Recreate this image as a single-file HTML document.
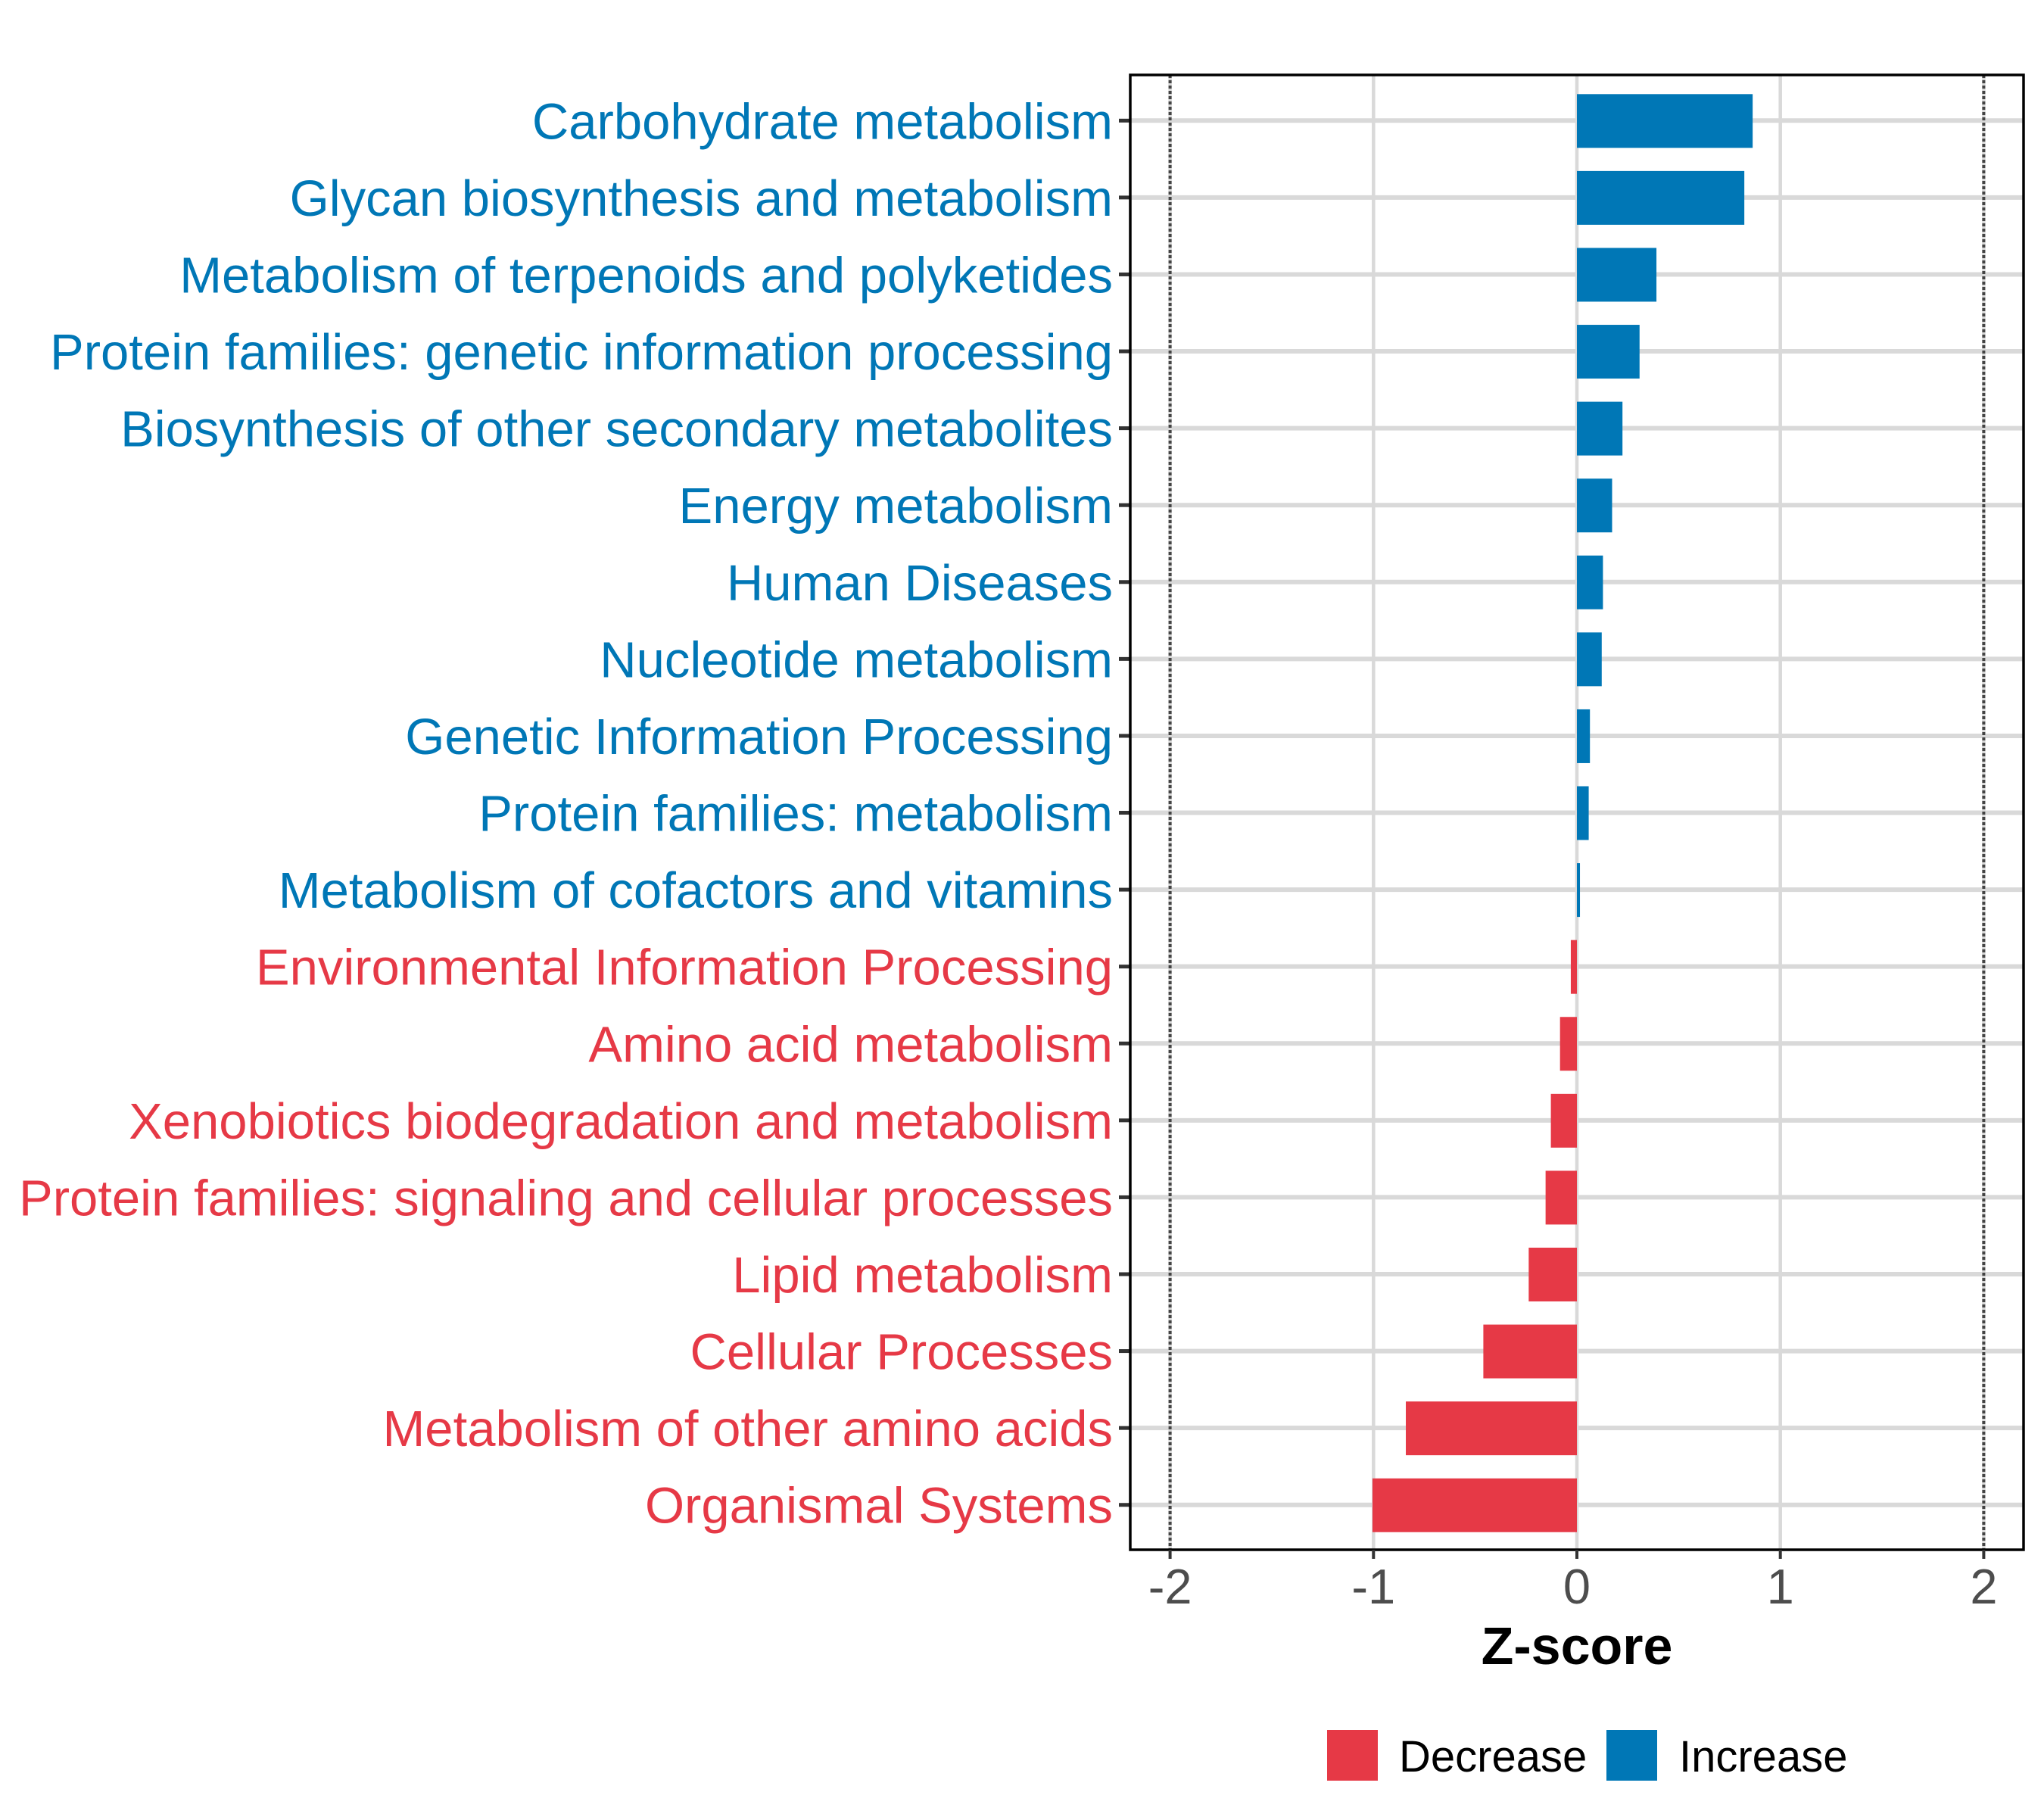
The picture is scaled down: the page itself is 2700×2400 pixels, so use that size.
<!DOCTYPE html>
<html><head><meta charset="utf-8"><style>
html,body{margin:0;padding:0;background:#fff}
svg{display:block;font-family:"Liberation Sans",Arial,sans-serif}
</style></head><body>
<svg id="chart" width="2700" height="2400" viewBox="0 0 2700 2400" xmlns="http://www.w3.org/2000/svg">
<rect width="2700" height="2400" fill="#fff"/>
<g id="grid"></g><g id="bars"></g><g id="ylabels"></g><g id="xaxis"></g>
<text x="2083" y="2198" font-size="70" font-weight="bold" text-anchor="middle" fill="#000">Z-score</text>
<g>
<rect x="1753" y="2285" width="67" height="67" fill="#E63946"/>
<text x="1848" y="2340" font-size="58" fill="#000">Decrease</text>
<rect x="2122" y="2285" width="67" height="67" fill="#0077B6"/>
<text x="2218" y="2340" font-size="58" fill="#000">Increase</text>
</g>
</svg>
<script>
const categories=["Carbohydrate metabolism","Glycan biosynthesis and metabolism","Metabolism of terpenoids and polyketides","Protein families: genetic information processing","Biosynthesis of other secondary metabolites","Energy metabolism","Human Diseases","Nucleotide metabolism","Genetic Information Processing","Protein families: metabolism","Metabolism of cofactors and vitamins","Environmental Information Processing","Amino acid metabolism","Xenobiotics biodegradation and metabolism","Protein families: signaling and cellular processes","Lipid metabolism","Cellular Processes","Metabolism of other amino acids","Organismal Systems"];
const zscores=[0.864,0.823,0.391,0.308,0.224,0.173,0.128,0.122,0.064,0.058,0.015,-0.03,-0.083,-0.128,-0.154,-0.237,-0.46,-0.841,-1.005];
const xTicks=[-2,-1,0,1,2];
const xTickLabels=["-2","-1","0","1","2"];
const thresholds=[-2,2];

const NS="http://www.w3.org/2000/svg";
const PL=1493,PR=2673,PT=99,PB=2047,X0=2083,UNIT=268.7;
const Y0=159.3,STEP=101.58,BH=71;
const xs=v=>X0+v*UNIT;
const ys=i=>Y0+i*STEP;
const BLUE="#0077B6",RED="#E63946";
function mk(tag,attrs,parent){const e=document.createElementNS(NS,tag);for(const k in attrs)e.setAttribute(k,attrs[k]);parent.appendChild(e);return e;}
const grid=document.getElementById('grid'),bars=document.getElementById('bars'),yl=document.getElementById('ylabels'),xa=document.getElementById('xaxis');
xTicks.forEach(t=>{const l=mk('line',{x1:xs(t),x2:xs(t),y1:PT,y2:PB,stroke:'#D9D9D9','stroke-width':4.5},grid);

});
categories.forEach((c,i)=>{const l=mk('line',{x1:PL,x2:PR,y1:ys(i),y2:ys(i),stroke:'#D9D9D9','stroke-width':6},grid);

});
thresholds.forEach(t=>{const l=mk('line',{x1:xs(t),x2:xs(t),y1:PT,y2:PB,stroke:'#444','stroke-width':4,'stroke-dasharray':'4 3'},grid);

});
categories.forEach((c,i)=>{const v=zscores[i];const col=v>=0?BLUE:RED;
const r=mk('rect',{x:Math.min(xs(0),xs(v)),y:ys(i)-BH/2+0.5,width:Math.abs(xs(v)-xs(0)),height:BH,fill:col},bars);


const t=mk('text',{x:1470,y:ys(i)+24,'font-size':67,'text-anchor':'end',fill:col},yl);t.textContent=c;


const tk=mk('line',{x1:1478,x2:PL,y1:ys(i),y2:ys(i),stroke:'#333','stroke-width':5},yl);

});
const border=mk('rect',{x:PL,y:PT,width:PR-PL,height:PB-PT,fill:'none',stroke:'#000','stroke-width':3.5},xa);


xTicks.forEach((t,i)=>{const tk=mk('line',{x1:xs(t),x2:xs(t),y1:PB,y2:PB+12,stroke:'#333','stroke-width':4},xa);


const tx=mk('text',{x:xs(t),y:2118,'font-size':65,'text-anchor':'middle',fill:'#4D4D4D'},xa);tx.textContent=xTickLabels[i];

});
</script>
</body></html>
